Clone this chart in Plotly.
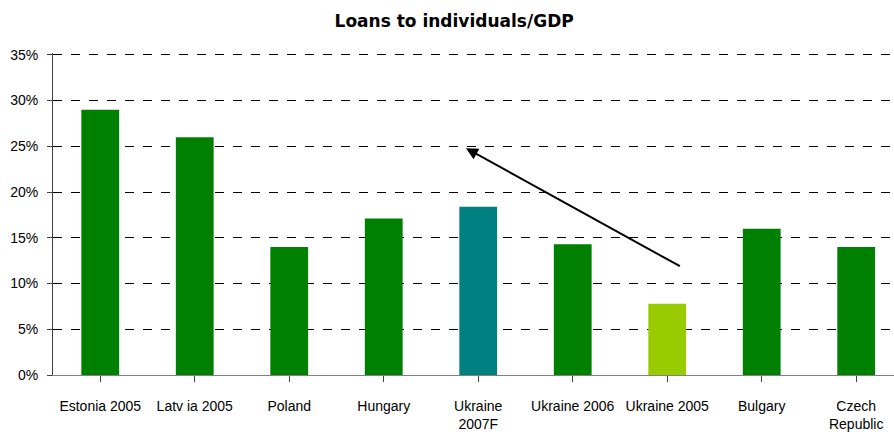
import plotly.graph_objects as go

# Loans to individuals as a share of GDP, by country
categories = ["Estonia 2005", "Latvia 2005", "Poland", "Hungary", "Ukraine 2007F",
              "Ukraine 2006", "Ukraine 2005", "Bulgary", "Czech Republic"]
tick_labels = ["Estonia 2005", "Latv ia 2005", "Poland", "Hungary", "Ukraine<br>2007F",
               "Ukraine 2006", "Ukraine 2005", "Bulgary", "Czech<br>Republic"]
values = [0.29, 0.26, 0.14, 0.171, 0.184, 0.143, 0.078, 0.16, 0.14]
bar_colors = ["#008000", "#008000", "#008000", "#008000", "#008080",
              "#008000", "#99CC00", "#008000", "#008000"]
y_ticks = [0, 0.05, 0.10, 0.15, 0.20, 0.25, 0.30, 0.35]

# Trend arrow from Ukraine 2005 up towards the Baltic level
arrow_tail = (6.15, 0.118)
arrow_head = (3.87, 0.248)

fig = go.Figure(
    go.Bar(
        x=list(range(len(categories))),
        y=values,
        marker=dict(color=bar_colors, line=dict(width=0)),
        width=0.4,
        hovertext=categories,
    )
)

fig.add_annotation(
    x=arrow_head[0], y=arrow_head[1], ax=arrow_tail[0], ay=arrow_tail[1],
    xref="x", yref="y", axref="x", ayref="y",
    showarrow=True, arrowhead=2, arrowsize=1.2, arrowwidth=2,
    arrowcolor="#000000", text="",
)

fig.update_layout(
    width=894, height=439,
    margin=dict(l=53, r=0, t=53, b=64),
    paper_bgcolor="white", plot_bgcolor="white",
    showlegend=False,
    font=dict(family="Liberation Sans, Arial, sans-serif", size=14, color="#000000"),
    title=dict(
        text="<b>Loans to individuals/GDP</b>",
        x=0.508, xanchor="center", y=0.953, yanchor="middle",
        font=dict(family="DejaVu Sans, sans-serif", size=17, color="#000000"),
    ),
    bargap=0.6,
)

fig.update_xaxes(
    tickmode="array",
    tickvals=list(range(len(categories))),
    ticktext=tick_labels,
    range=[-0.5, 8.4],
    tickson="boundaries",
    ticks="outside", ticklen=6, tickcolor="#404040", tickwidth=1,
    showline=True, linecolor="#808080", linewidth=1,
    showgrid=False, zeroline=False,
    ticklabelstandoff=12,
    tickfont=dict(size=14, color="#000000"),
)

fig.update_yaxes(
    range=[0, 0.352],
    tickvals=y_ticks,
    tickformat=".0%",
    ticks="outside", ticklen=5, tickcolor="#404040", tickwidth=1,
    showline=True, linecolor="#404040", linewidth=1,
    showgrid=True, gridcolor="#000000", griddash="dash", gridwidth=1,
    zeroline=False,
    ticklabelstandoff=6,
    tickfont=dict(size=14, color="#000000"),
)

fig.write_html("out.html")
